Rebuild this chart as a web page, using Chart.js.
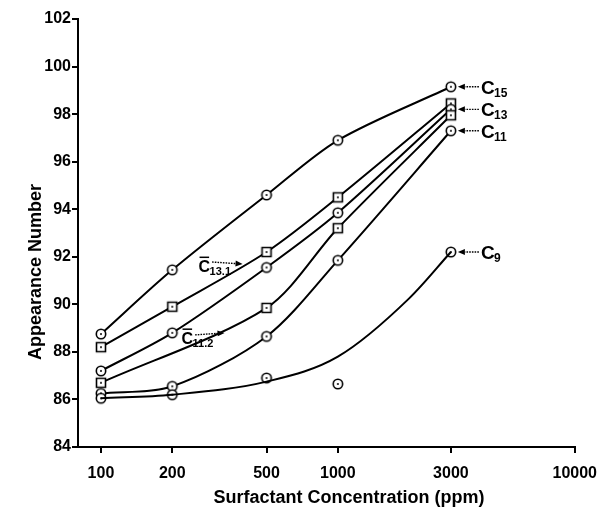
<!DOCTYPE html>
<html>
<head>
<meta charset="utf-8">
<script src="https://cdn.jsdelivr.net/npm/chart.js@4"></script>
<style>
html,body{margin:0;padding:0;background:#fff;}
#wrap{width:608px;height:508px;}
</style>
</head>
<body>
<div id="wrap"><canvas id="c" width="608" height="508"></canvas></div>
<script>
// ---- data ----
const concentrations = [100, 200, 500, 1000, 3000];      // ppm
const xTickValues = [100, 200, 500, 1000, 3000, 10000];
const c15  = [88.75, 91.45, 94.6, 96.9, 99.15];
const c131 = [88.2, 89.9, 92.2, 94.5, 98.45];             // C̄13.1 (squares)
const c13  = [87.2, 88.8, 91.55, 93.85, 98.2];
const c112 = [86.7, null, 89.85, 93.2, 97.95];            // C̄11.2 (squares)
const c11  = [86.25, 86.55, 88.65, 91.85, 97.3];
const c9   = [86.05, 86.2, 86.9, 86.65, 92.2];
// the hand-drawn C9 curve (it misses the 1000 ppm point)
const c9CurveConc = [100, 200, 500, 1000, 2000, 3000];
const c9Curve     = [86.05, 86.2, 86.75, 87.8, 90.25, 92.2];
const xTitle = 'Surfactant Concentration (ppm)';
const yTitle = 'Appearance Number';

const FONT = '"Liberation Sans", Arial, sans-serif';

function makeMarker(shape) {
  const s = 14, c = document.createElement('canvas');
  c.width = s; c.height = s;
  const g = c.getContext('2d');
  g.fillStyle = '#fff'; g.strokeStyle = '#000'; g.lineWidth = 1.6;
  if (shape === 'circle') {
    g.beginPath(); g.arc(7, 7, 4.7, 0, Math.PI * 2); g.fill(); g.stroke();
  } else {
    g.beginPath(); g.rect(2.5, 2.5, 9, 9); g.fill(); g.stroke();
  }
  g.fillStyle = '#000';
  g.beginPath(); g.arc(7, 7, 1.0, 0, Math.PI * 2); g.fill();
  return c;
}
const circleMk = makeMarker('circle');
const squareMk = makeMarker('square');

function pts(vals, xs) {
  xs = xs || concentrations;
  const out = [];
  vals.forEach((v, i) => { if (v !== null) out.push({x: xs[i], y: v}); });
  return out;
}

function lineDs(label, vals, mk, showPts) {
  return {
    label, data: pts(vals), borderColor: '#000', borderWidth: 2,
    backgroundColor: '#fff', showLine: true, tension: 0.3,
    pointStyle: showPts ? mk : false, pointRadius: showPts ? 5 : 0, pointHoverRadius: 5
  };
}
function pointDs(label, vals, mk) {
  return {
    label, data: pts(vals), showLine: false, pointStyle: mk, pointRadius: 5,
    borderColor: '#000', backgroundColor: '#fff'
  };
}

const datasets = [
  {label: 'C9 curve', data: pts(c9Curve, c9CurveConc), borderColor: '#000', borderWidth: 2,
   showLine: true, cubicInterpolationMode: 'monotone', pointRadius: 0, pointStyle: false},
  pointDs('C9', c9, circleMk),
  lineDs('C11', c11, circleMk, true),
  lineDs('C̄11.2', c112, squareMk, true),
  lineDs('C13', c13, circleMk, true),
  lineDs('C̄13.1', c131, squareMk, true),
  lineDs('C15', c15, circleMk, true)
];

function drawArrow(ctx, x1, y1, x2, y2) {
  ctx.save();
  ctx.strokeStyle = '#000'; ctx.fillStyle = '#000'; ctx.lineWidth = 1.4;
  const ang = Math.atan2(y2 - y1, x2 - x1), hl = 7, hw = 3;
  const bx = x2 - hl * Math.cos(ang), by = y2 - hl * Math.sin(ang);
  ctx.setLineDash([1.6, 1.1]);
  ctx.beginPath(); ctx.moveTo(x1, y1); ctx.lineTo(bx, by); ctx.stroke();
  ctx.setLineDash([]);
  ctx.beginPath(); ctx.moveTo(x2, y2);
  ctx.lineTo(bx + hw * Math.sin(ang), by - hw * Math.cos(ang));
  ctx.lineTo(bx - hw * Math.sin(ang), by + hw * Math.cos(ang));
  ctx.closePath(); ctx.fill();
  ctx.restore();
}
function drawC(ctx, x, base, sub, big, small, bar) {
  ctx.save();
  ctx.fillStyle = '#000'; ctx.textAlign = 'left'; ctx.textBaseline = 'alphabetic';
  ctx.font = 'bold ' + big + 'px ' + FONT;
  ctx.fillText('C', x, base);
  const w = ctx.measureText('C').width;
  if (bar) {
    ctx.strokeStyle = '#000'; ctx.lineWidth = 1.5;
    ctx.beginPath(); ctx.moveTo(x + 1, base - big * 0.92); ctx.lineTo(x + w - 1, base - big * 0.92); ctx.stroke();
  }
  ctx.font = 'bold ' + small + 'px ' + FONT;
  ctx.fillText(sub, x + w - 0.5, base + 3);
  const w2 = ctx.measureText(sub).width;
  ctx.restore();
  return {cRight: x + w, right: x + w + w2};
}

const annotate = {
  id: 'annotate',
  afterDraw(chart) {
    const ctx = chart.ctx;
    const byLabel = l => chart.getDatasetMeta(chart.data.datasets.findIndex(d => d.label === l));
    [['C15', '15'], ['C13', '13'], ['C11', '11'], ['C9', '9']].forEach(([l, sub]) => {
      const m = byLabel(l); const p = m.data[m.data.length - 1];
      drawArrow(ctx, p.x + 28, p.y, p.x + 7, p.y);
      drawC(ctx, p.x + 30, p.y + 7, sub, 19, 12, false);
    });
    {
      const m = byLabel('C̄13.1'); const p = m.data[2];
      const r = drawC(ctx, p.x - 68, p.y + 20, '13.1', 16, 11, true);
      drawArrow(ctx, r.cRight + 2, p.y + 10, p.x - 24, p.y + 12);
    }
    {
      const m = byLabel('C̄11.2'); const p = m.data[1];
      const r = drawC(ctx, p.x - 85, p.y + 36, '11.2', 16, 11, true);
      drawArrow(ctx, r.cRight + 2, p.y + 27, p.x - 42, p.y + 25);
    }
    ctx.save();
    ctx.fillStyle = '#000'; ctx.font = 'bold 18px ' + FONT;
    ctx.textAlign = 'center'; ctx.textBaseline = 'alphabetic';
    ctx.fillText(xTitle, 349, 503);
    ctx.translate(41, 272); ctx.rotate(-Math.PI / 2);
    ctx.fillText(yTitle, 0, 0);
    ctx.restore();
  }
};

new Chart(document.getElementById('c'), {
  type: 'scatter',
  data: {datasets},
  plugins: [annotate],
  options: {
    responsive: false, animation: false,
    layout: {padding: {left: 0, right: 31, top: 19, bottom: 0}},
    plugins: {legend: {display: false}, tooltip: {enabled: false}, title: {display: false}},
    scales: {
      x: {
        type: 'logarithmic', min: 80, max: 10000,
        afterBuildTicks: s => { s.ticks = xTickValues.map(v => ({value: v})); },
        afterFit: s => { s.height = 61; },
        ticks: {color: '#000', font: {family: FONT, size: 16, weight: 'bold'}, padding: 11,
                autoSkip: false, maxRotation: 0, callback: v => String(v)},
        grid: {display: true, drawOnChartArea: false, drawTicks: true, tickLength: 6, color: '#000', lineWidth: 2},
        border: {display: true, color: '#000', width: 2}
      },
      y: {
        min: 84, max: 102,
        afterFit: s => { s.width = 78; },
        ticks: {stepSize: 2, color: '#000', font: {family: FONT, size: 16, weight: 'bold'}, padding: 1},
        grid: {display: true, drawOnChartArea: false, drawTicks: true, tickLength: 6, color: '#000', lineWidth: 2},
        border: {display: true, color: '#000', width: 2}
      }
    }
  }
});
</script>
</body>
</html>
